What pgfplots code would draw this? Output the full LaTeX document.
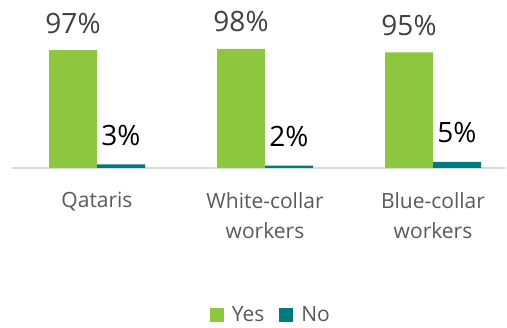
\documentclass[border=0pt]{standalone}
\usepackage{pgfplots}
\pgfplotsset{compat=1.18}
\usepackage{fontspec}
\setmainfont{Open Sans}
\definecolor{cgreen}{RGB}{141,198,63}
\definecolor{cteal}{RGB}{0,122,128}
\definecolor{cgray}{RGB}{89,89,89}
\definecolor{dgray}{RGB}{64,64,64}
\definecolor{lgray}{RGB}{217,217,217}
\pgfplotsset{sqlegend/.style={legend image code/.code={\fill[##1,draw=none] (0pt,-7pt) rectangle (14pt,7pt);}}}
\begin{document}
\begin{tikzpicture}
\useasboundingbox (0,0) rectangle (507pt,328pt);
\begin{axis}[
 at={(12pt,160pt)}, anchor=south west,
 scale only axis, width=493pt, height=121.6pt,
 xmin=-0.506, xmax=2.4285, ymin=0, ymax=100,
 axis y line=none, axis x line*=bottom,
 x axis line style={draw=lgray, line width=2pt},
 xtick={0,1,2}, xticklabels={Qataris, White-collar\\workers, Blue-collar\\workers},
 major tick length=0pt,
 xticklabel style={align=center, font=\fontsize{21}{30}\selectfont, text=cgray, anchor=north, inner sep=0pt, yshift=-24pt},
 ybar, bar width=48pt,
 clip=false,
 /pgf/number format/assume math mode=true,
 nodes near coords={\pgfmathprintnumber{\pgfplotspointmeta}\%},
 nodes near coords style={font=\fontsize{28}{34}\selectfont, anchor=base},
 legend style={at={(rel axis cs:0.523,-1.205)}, anchor=center, draw=none, fill=none,
   legend columns=-1, font=\fontsize{21}{25}\selectfont, text=cgray, inner sep=0pt,
   nodes={inner sep=0pt},
   /tikz/every odd column/.append style={column sep=8pt},
   /tikz/every even column/.append style={column sep=15pt}},
]
\addplot[fill=cgreen, draw=none, bar shift=-24pt, sqlegend,
  every node near coord/.append style={text=dgray, yshift=17pt}]
  coordinates {(0,97) (1,98) (2,95)};
\addplot[fill=cteal, draw=none, bar shift=24pt, sqlegend,
  every node near coord/.append style={text=black, yshift=19pt}]
  coordinates {(0,3) (1,2) (2,5)};
\legend{Yes,No}
\end{axis}
\end{tikzpicture}
\end{document}
